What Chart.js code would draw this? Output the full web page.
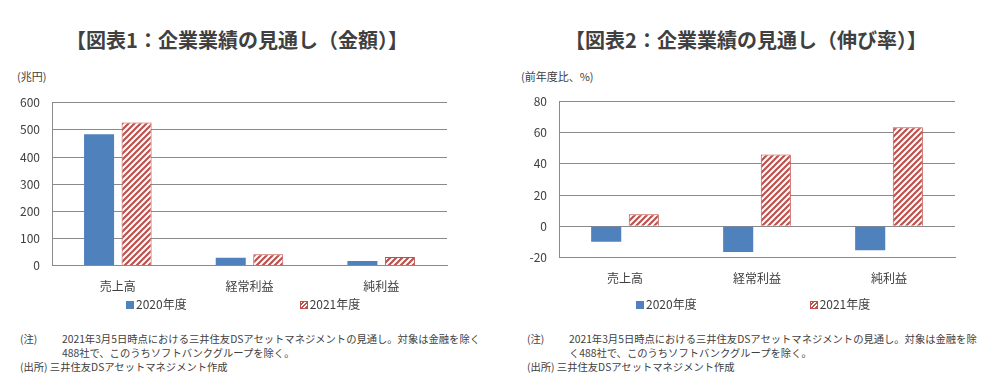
<!DOCTYPE html>
<html lang="ja">
<head>
<meta charset="utf-8">
<title>企業業績の見通し</title>
<script src="https://cdn.jsdelivr.net/npm/chart.js@4.4.1/dist/chart.umd.min.js"></script>
<style>
  body {
    margin: 0;
    width: 992px;
    height: 380px;
    background: #fff;
    position: relative;
    overflow: hidden;
    font-family: "Noto Sans CJK JP", sans-serif;
    color: #404040;
  }
  .title {
    position: absolute;
    top: 28px;
    width: 420px;
    text-align: center;
    font-size: 20px;
    font-weight: bold;
    line-height: 24px;
    white-space: nowrap;
    color: #404040;
  }
  .unit { position: absolute; top: 68px; font-size: 11px; white-space: nowrap; }
  canvas { position: absolute; }
  .legend {
    position: absolute;
    top: 296px;
    display: flex;
    gap: 113px;
    font-size: 12px;
    line-height: 16px;
    white-space: nowrap;
  }
  .legend span.sw {
    display: inline-block;
    width: 8px;
    height: 8px;
    margin-right: 2px;
    box-sizing: border-box;
  }
  .note {
    position: absolute;
    top: 332px;
    font-size: 10.3px;
    line-height: 14px;
    white-space: nowrap;
  }
  .note .k { display: inline-block; width: 42px; }
</style>
</head>
<body>
<div class="title" style="left:27px">【図表1：企業業績の見通し（金額）】</div>
<div class="title" style="left:536px">【図表2：企業業績の見通し（伸び率）】</div>
<div class="unit" style="left:17px">(兆円)</div>
<div class="unit" style="left:521px">(前年度比、%)</div>

<canvas id="amountChart" width="496" height="218" style="left:0;top:90px"></canvas>
<canvas id="growthChart" width="496" height="210" style="left:496px;top:90px"></canvas>

<div class="legend" id="legendAmount" style="left:126px"></div>
<div class="legend" id="legendGrowth" style="left:636px"></div>

<div class="note" style="left:20px">
  <span class="k">(注)</span>2021年3月5日時点における三井住友DSアセットマネジメントの見通し。対象は金融を除く<br>
  <span class="k"></span>488社で、このうちソフトバンクグループを除く。<br>
  (出所) 三井住友DSアセットマネジメント作成
</div>
<div class="note" style="left:527px">
  <span class="k">(注)</span>2021年3月5日時点における三井住友DSアセットマネジメントの見通し。対象は金融を除<br>
  <span class="k"></span>く488社で、このうちソフトバンクグループを除く。<br>
  (出所) 三井住友DSアセットマネジメント作成
</div>

<script>
// データ
const categories = ['売上高', '経常利益', '純利益'];
const seriesLabels = ['2020年度', '2021年度'];
const amount2020 = [484, 29, 17];      // 兆円
const amount2021 = [527, 42, 32];
const growth2020 = [-9.9, -16.4, -15.3]; // 前年度比 %
const growth2021 = [7.7, 46, 63.4];
const amountTicks = [0, 600, 100];   // min, max, step
const growthTicks = [-20, 80, 20];

const blue = '#4f81bd';
const red = '#c0504d';
const gridColor = '#8a8a8a';
const textColor = '#404040';

Chart.defaults.font.family = '"Noto Sans CJK JP", sans-serif';
Chart.defaults.font.size = 12;
Chart.defaults.color = textColor;

// 斜線パターン
function makeHatch() {
    const s = 6;
    const c = document.createElement('canvas');
    c.width = s;
    c.height = s;
    const g = c.getContext('2d');
    g.fillStyle = '#fff';
    g.fillRect(0, 0, s, s);
    g.strokeStyle = red;
    g.lineWidth = 2.2;
    g.beginPath();
    g.moveTo(-1, 1); g.lineTo(1, -1);
    g.moveTo(0, s); g.lineTo(s, 0);
    g.moveTo(s - 1, s + 1); g.lineTo(s + 1, s - 1);
    g.stroke();
    return g.createPattern(c, 'repeat');
}
const hatch = makeHatch();

function makeChart(id, v2020, v2021, ticks, axisWidth, padTop, padRight) {
    const ctx = document.getElementById(id).getContext('2d');
    return new Chart(ctx, {
        type: 'bar',
        data: {
            labels: categories,
            datasets: [{
                label: seriesLabels[0],
                data: v2020,
                backgroundColor: blue,
                borderWidth: 0,
                barPercentage: 0.8,
                categoryPercentage: 0.57
            }, {
                label: seriesLabels[1],
                data: v2021,
                backgroundColor: hatch,
                borderColor: red,
                borderWidth: 1,
                barPercentage: 0.8,
                categoryPercentage: 0.57
            }]
        },
        options: {
            responsive: false,
            animation: false,
            layout: { padding: { top: padTop, right: padRight, bottom: 0, left: 0 } },
            plugins: {
                legend: { display: false },
                tooltip: { enabled: false }
            },
            scales: {
                x: {
                    grid: { display: false, drawTicks: false },
                    border: { display: true, color: gridColor },
                    ticks: { padding: 14, color: textColor }
                },
                y: {
                    min: ticks[0],
                    max: ticks[1],
                    ticks: { stepSize: ticks[2], padding: 12, color: textColor },
                    grid: { color: gridColor, drawTicks: false },
                    border: { display: true, color: gridColor },
                    afterFit: (s) => {
                        s.width = axisWidth;
                        // ラベル分の余白は layout.padding で決める
                        s.paddingTop = 0;
                        s.paddingBottom = 0;
                    }
                }
            }
        }
    });
}

const amountChart = makeChart('amountChart', amount2020, amount2021, amountTicks, 52, 12.7, 49);
const growthChart = makeChart('growthChart', growth2020, growth2021, growthTicks, 63, 11.3, 37);

// 凡例
function buildLegend(elId, chart) {
    const el = document.getElementById(elId);
    chart.data.datasets.forEach((ds, i) => {
        const item = document.createElement('div');
        const sw = document.createElement('span');
        sw.className = 'sw';
        if (i === 0) {
            sw.style.background = blue;
        } else {
            sw.style.border = '1px solid ' + red;
            sw.style.background = 'repeating-linear-gradient(-45deg, ' + red + ' 0 1.5px, #fff 1.5px 3px)';
        }
        item.appendChild(sw);
        item.appendChild(document.createTextNode(ds.label));
        el.appendChild(item);
    });
}
buildLegend('legendAmount', amountChart);
buildLegend('legendGrowth', growthChart);
</script>
</body>
</html>
